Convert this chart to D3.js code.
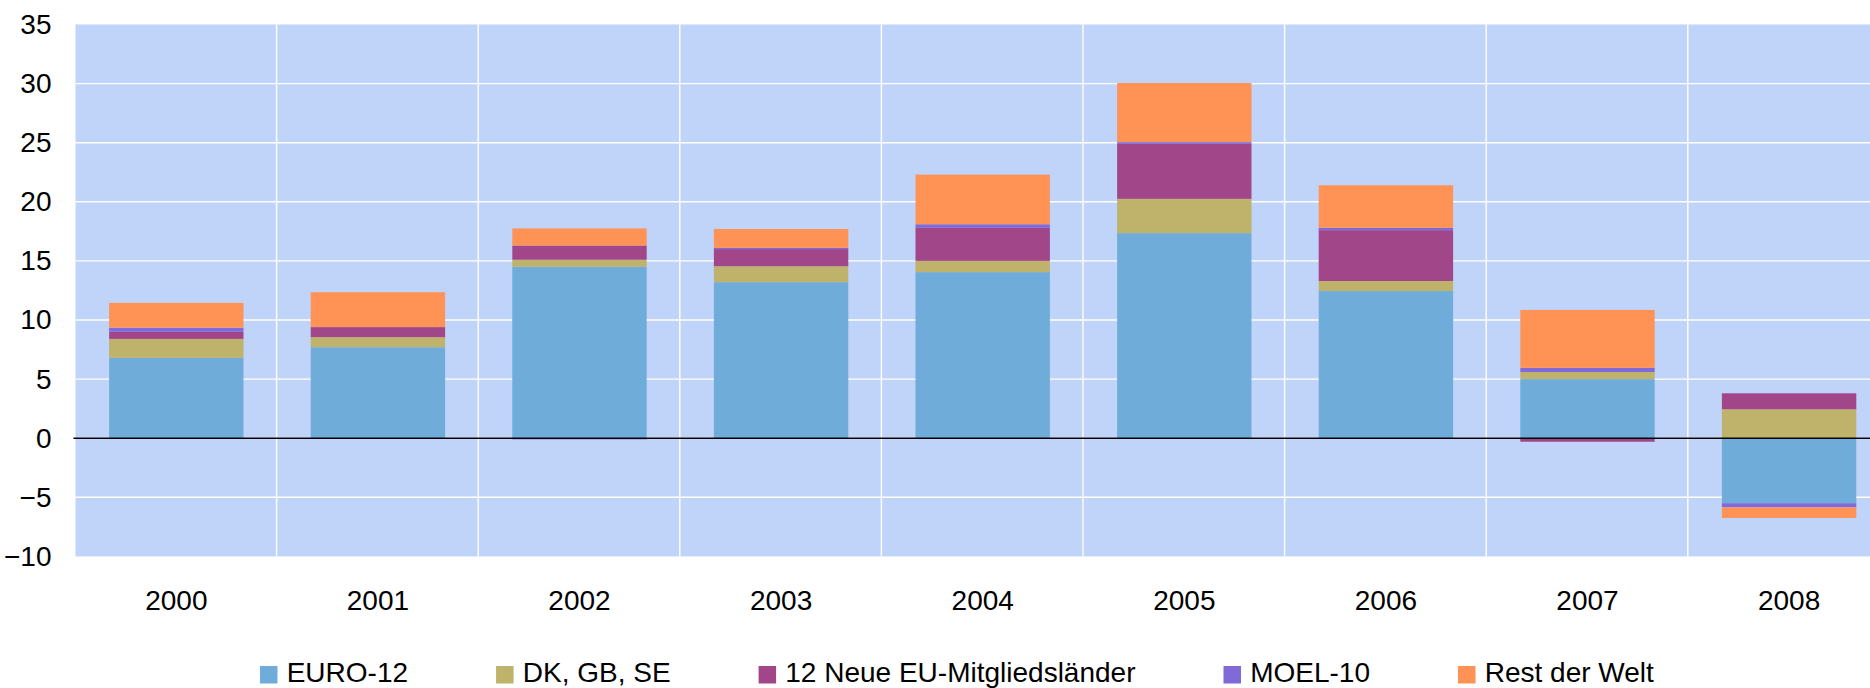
<!DOCTYPE html>
<html>
<head>
<meta charset="utf-8">
<script src="https://cdn.jsdelivr.net/npm/d3@7"></script>
<style>
  html, body { margin:0; padding:0; background:#fff; }
  svg { display:block; font-family:"Liberation Sans", Arial, sans-serif; }
</style>
</head>
<body>
<div id="chart"></div>
<script>
// data (Mrd.)
const years = ['2000','2001','2002','2003','2004','2005','2006','2007','2008'];
const seriesNames = ['EURO-12','DK, GB, SE','12 Neue EU-Mitgliedsländer','MOEL-10','Rest der Welt'];
const euro12 = [6.8, 7.7, 14.5, 13.2, 14.05, 17.35, 12.45, 5.0, -5.5];
const dkGbSe = [1.6, 0.85, 0.6, 1.35, 0.95, 2.9, 0.85, 0.6, 2.45];
const neue12 = [0.6, 0.85, 1.2, 1.45, 2.8, 4.65, 4.3, -0.3, 1.35];
const moel10 = [0.35, 0, -0.1, 0.1, 0.3, 0.15, 0.2, 0.35, -0.35];
const restWelt = [2.1, 2.95, 1.45, 1.6, 4.2, 5.0, 3.6, 4.9, -0.9];
const yTicks = [-10, -5, 0, 5, 10, 15, 20, 25, 30, 35];

const colors = ['#70acd9','#bfb26a','#a2468a','#806ad8','#ff9356'];

(function(){
  const W = 1870, H = 688;
  const left = 75.5, step = 201.6;
  const top = 24.5, bottom = 556.4;

  const svg = d3.select('#chart').append('svg').attr('width', W).attr('height', H);

  // one row per year, one key per series
  const allVals = [euro12, dkGbSe, neue12, moel10, restWelt];
  const rows = years.map((y,i) => {
    const r = {year: y};
    seriesNames.forEach((s,k) => r[s] = allVals[k][i]);
    return r;
  });

  const x = d3.scaleBand().domain(years)
    .range([left, left + step*years.length])
    .paddingInner(1/3).paddingOuter(1/6);
  const y = d3.scaleLinear().domain([-10, 35]).range([bottom, top]);

  // plot background
  svg.append('rect')
    .attr('x', left).attr('y', top)
    .attr('width', step*years.length).attr('height', bottom - top)
    .attr('fill', '#c0d3f8');

  // grid
  const grid = svg.append('g');
  grid.selectAll('line.h').data(yTicks.filter(t => t !== 35 && t !== -10)).join('line')
    .attr('class','h')
    .attr('x1', left).attr('x2', left + step*years.length)
    .attr('y1', d => y(d)).attr('y2', d => y(d))
    .attr('stroke', '#fff').attr('stroke-width', 1.4);
  grid.selectAll('line.v').data(years.slice(1)).join('line')
    .attr('class','v')
    .attr('x1', d => x(d) - x.step()*x.paddingInner()/2 - 0.5)
    .attr('x2', d => x(d) - x.step()*x.paddingInner()/2 - 0.5)
    .attr('y1', top).attr('y2', bottom)
    .attr('stroke', '#fff').attr('stroke-width', 1.4);

  // stacked bars, negatives below zero
  const stack = d3.stack().keys(seriesNames).offset(d3.stackOffsetDiverging);
  const layers = stack(rows);

  svg.append('g').selectAll('g').data(layers).join('g')
    .attr('fill', (d,i) => colors[i])
    .selectAll('rect').data(d => d).join('rect')
      .attr('x', d => x(d.data.year))
      .attr('width', x.bandwidth())
      .attr('y', d => y(Math.max(d[0], d[1])))
      .attr('height', d => Math.abs(y(d[0]) - y(d[1])));

  // zero line
  svg.append('line')
    .attr('x1', left - 2).attr('x2', W)
    .attr('y1', y(0)).attr('y2', y(0))
    .attr('stroke', '#000').attr('stroke-width', 1.4);

  // y axis labels
  const yAxis = svg.append('g')
    .attr('transform', `translate(${left},0)`)
    .call(d3.axisLeft(y).tickValues(yTicks).tickSize(0).tickPadding(24));
  yAxis.select('.domain').remove();
  yAxis.selectAll('text').style('font-size','28px').style('fill','#000')
    .style('font-family','"Liberation Sans", Arial, sans-serif');

  // x axis labels
  const xAxis = svg.append('g')
    .attr('transform', `translate(0,${bottom})`)
    .call(d3.axisBottom(x).tickSize(0).tickPadding(34));
  xAxis.select('.domain').remove();
  xAxis.selectAll('text').style('font-size','28px').style('fill','#000')
    .style('font-family','"Liberation Sans", Arial, sans-serif');

  // legend
  const legend = svg.append('g').attr('transform', 'translate(260,666)');
  let lx = 0;
  seriesNames.forEach((name,i) => {
    const item = legend.append('g').attr('transform', `translate(${lx},0)`);
    item.append('rect').attr('width', 17.5).attr('height', 17.5).attr('fill', colors[i]);
    const t = item.append('text').attr('x', 26.7).attr('y', 16)
      .style('font-size','28px').style('fill','#000').text(name);
    lx += 26.7 + t.node().getComputedTextLength() + 88;
  });
})();
</script>
</body>
</html>
